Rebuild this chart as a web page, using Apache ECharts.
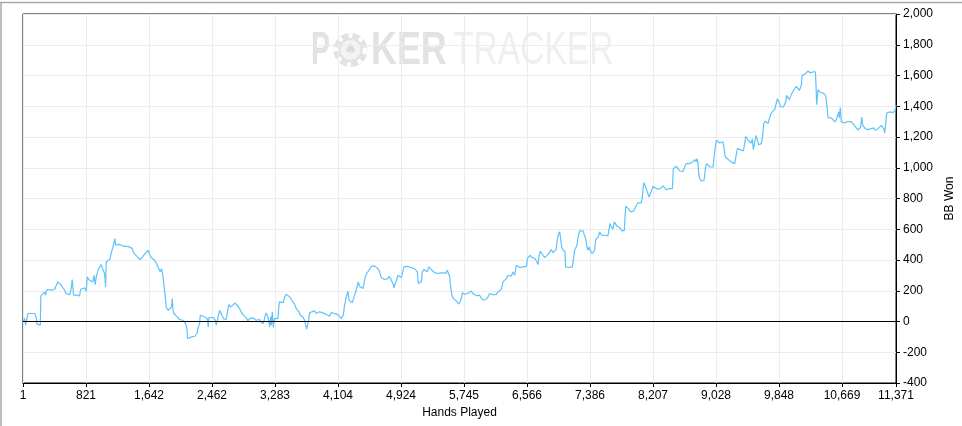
<!DOCTYPE html>
<html>
<head>
<meta charset="utf-8">
<script src="https://cdn.jsdelivr.net/npm/echarts@6/dist/echarts.min.js"></script>
<style>
html,body{margin:0;padding:0;background:#fff;}
#c{width:962px;height:426px;}
</style>
</head>
<body>
<div id="c"></div>
<script>
// Hands played (x) and cumulative BB won (y)
var hands = [1,21,34,51,64,77,107,129,151,173,181,207,225,233,259,281,294,311,337,368,390,411,433,455,476,498,520,542,563,585,607,628,641,659,676,694,715,737,750,772,802,824,837,850,867,889,911,924,941,954,980,997,1019,1041,1063,1076,1084,1106,1128,1149,1162,1180,1197,1206,1223,1249,1280,1310,1345,1367,1388,1410,1423,1440,1466,1484,1510,1527,1545,1562,1588,1614,1631,1649,1670,1692,1714,1736,1749,1766,1788,1805,1822,1840,1853,1866,1892,1918,1935,1944,1953,1966,1996,2018,2040,2061,2083,2105,2118,2135,2144,2170,2196,2213,2239,2265,2278,2300,2309,2330,2352,2378,2400,2413,2422,2452,2482,2504,2517,2539,2561,2578,2591,2613,2630,2647,2669,2682,2700,2717,2734,2760,2786,2812,
2821,2843,2865,2886,2908,2930,2952,2973,2995,3017,3038,3060,3082,3095,3112,3130,3147,3164,3182,3199,3212,3225,3234,3247,3260,3277,3299,3321,3338,3364,3390,3408,3429,3451,3473,3494,3516,3538,3559,3581,3594,3612,3625,3646,3668,3681,3694,3711,3720,3733,3746,3764,3785,3798,3820,3842,3863,3885,3907,3929,3950,3972,3994,4015,4037,4059,4081,4102,4124,4146,4159,4172,4189,4211,4233,4246,4267,4289,4311,4328,4350,4367,4384,4406,4428,4450,4458,4476,4493,4506,4523,4536,4558,4580,4602,4623,4645,4667,4688,4710,4732,4754,4771,4788,4806,4823,4832,4849,4866,4884,4905,4927,4940,4962,4979,5005,5031,5057,5079,5101,5123,5136,5149,5157,5170,5188,5201,5223,5249,5266,5283,5309,5335,5353,5370,5388,5405,5422,5440,5457,5474,5492,5509,5526,5544,5557,5570,5587,5605,5622,
5644,5666,5679,5696,5709,5722,5739,5757,5774,5796,5818,5835,5861,5883,5904,5926,5948,5969,5991,6013,6035,6056,6078,6100,6121,6143,6165,6187,6208,6230,6252,6273,6295,6317,6339,6360,6382,6404,6425,6447,6469,6491,6512,6534,6556,6569,6590,6608,6629,6651,6669,6686,6708,6721,6738,6755,6773,6794,6816,6838,6860,6881,6903,6925,6946,6955,6973,6990,7003,7020,7042,7059,7068,7085,7111,7133,7155,7172,7185,7198,7216,7229,7250,7272,7294,7316,7329,7346,7359,7372,7389,7411,7433,7446,7459,7476,7494,7511,7524,7537,7554,7576,7598,7619,7632,7645,7663,7685,7702,7719,7737,7754,7771,7784,7802,7819,7832,7850,7867,7884,7902,7919,7936,7954,7971,7989,8010,8032,8054,8067,8084,8101,8119,8136,8154,8171,8188,8206,8227,8249,8271,8292,8314,8336,8358,8379,8401,
8423,8445,8458,8471,8488,8510,8532,8553,8575,8597,8619,8636,8653,8671,8697,8714,8731,8749,8766,8779,8792,8801,8814,8836,8857,8870,8879,8892,8909,8927,8944,8966,8988,9001,9018,9031,9053,9074,9096,9118,9140,9148,9166,9183,9205,9226,9248,9270,9292,9305,9322,9344,9365,9383,9400,9413,9430,9452,9470,9487,9500,9513,9530,9548,9565,9582,9600,9617,9635,9648,9669,9687,9704,9717,9734,9756,9773,9791,9813,9826,9843,9856,9869,9886,9904,9921,9934,9947,9965,9982,9999,10012,10030,10051,10073,10095,10112,10130,10138,10147,10164,10182,10203,10225,10238,10255,10268,10286,10303,10321,10329,10338,10355,10377,10399,10420,10442,10455,10473,10486,10507,10529,10551,10572,10594,10607,10625,10633,10646,10659,10681,10703,10724,10746,10768,10790,10811,10833,10855,10876,10898,10911,10924,10937,10955,10972,10989,11007,11028,11050,11067,11085,11102,11120,11137,11159,11180,11198,11211,11224,11237,11250,11267,11289,11311,11332,11350,11358,11371];

var bbWon = [0,19,-24,-17,52,56,52,56,52,26,-17,-28,-24,165,178,193,171,208,197,204,208,208,214,258,247,236,219,204,182,171,175,214,273,171,178,171,175,167,208,221,219,197,290,301,268,268,258,301,240,290,338,349,370,338,312,225,388,398,403,405,468,474,539,496,485,502,496,489,489,485,485,494,474,446,437,424,420,403,416,424,442,437,463,437,416,403,398,381,366,344,323,344,301,214,160,89,73,73,95,149,73,52,37,24,13,15,8,-2,-13,-46,-111,-104,-100,-100,-96,-78,-46,-13,41,34,34,34,19,-35,26,26,26,9,-24,-28,73,84,41,19,9,13,84,110,95,84,106,121,112,91,
91,63,45,34,24,4,19,30,24,15,8,4,13,-2,-9,-13,-24,56,41,8,-35,30,-24,63,-39,19,15,19,128,128,123,160,177,171,160,143,128,112,84,95,63,41,52,30,8,13,-50,-50,8,56,47,63,52,69,52,45,63,67,56,52,45,52,34,58,47,52,56,45,41,19,8,41,106,160,197,138,128,123,160,182,193,258,229,219,214,208,290,312,301,333,344,359,372,362,351,344,323,284,273,273,268,279,294,279,258,240,219,247,268,301,307,286,312,355,366,359,362,351,355,344,338,323,247,240,247,258,323,338,329,323,355,344,329,323,316,323,312,316,316,307,316,323,312,333,333,294,225,171,149,138,
134,128,113,106,149,186,199,177,171,182,186,199,182,175,167,160,171,154,138,149,145,160,182,177,175,186,177,193,204,208,258,269,279,301,290,294,323,301,366,355,351,344,355,351,359,409,416,431,416,420,409,394,370,424,457,453,431,416,424,435,453,468,448,442,468,518,567,583,539,474,463,453,355,349,351,351,355,416,463,474,496,546,589,583,589,578,539,485,463,485,463,442,437,463,533,539,550,583,593,561,572,561,565,557,561,637,615,600,648,654,619,615,611,598,589,583,593,749,756,734,728,713,706,719,713,756,771,767,771,810,903,886,875,838,810,804,853,879,886,864,858,860,864,882,871,858,853,
864,860,864,994,1005,1010,1001,979,973,977,973,1027,1031,1027,1023,1033,1027,1053,1038,1059,1027,962,929,914,908,918,951,1010,1027,1016,1005,999,1005,1070,1135,1179,1168,1161,1161,1168,1157,1070,1081,1055,1048,1038,1031,1027,1031,1124,1131,1118,1131,1109,1157,1205,1196,1174,1168,1161,1189,1118,1124,1211,1211,1150,1140,1157,1211,1287,1304,1309,1287,1313,1341,1363,1369,1378,1384,1449,1439,1417,1395,1406,1395,1391,1428,1471,1465,1443,1449,1482,1493,1514,1529,1529,1503,1493,1536,1601,1605,1607,1616,1629,1638,1616,1607,1623,1629,1623,1536,1410,1508,1493,1488,1486,1482,1471,1395,1326,1319,1324,1319,1298,1313,1326,1363,1326,1391,1298,1287,1291,1298,1302,1304,1298,1293,1272,1259,1244,1244,1265,1330,1276,1270,1254,1244,1248,1244,1254,1248,1259,1244,1248,1254,1265,1276,1272,1254,1226,1287,1356,1363,1363,1367,1358,1356,1373,1406];

var xTickLabels = ['1','821','1,642','2,462','3,283','4,104','4,924','5,745','6,566','7,386','8,207','9,028','9,848','10,669','11,371'];
var xMax = 11371;
var xInterval = 820.6;
var yMin = -400, yMax = 2000, yInterval = 200;

var chart = echarts.init(document.getElementById('c'), null, {renderer: 'canvas'});
var FONT = 'Liberation Sans, Arial, sans-serif';
var seriesData = hands.map(function (h, i) { return [h, bbWon[i]]; });

var option = {
  animation: false,
  backgroundColor: '#ffffff',
  textStyle: {fontFamily: FONT},
  graphic: [
    {type: 'line', silent: true, shape: {x1: 0, y1: 2.5, x2: 962, y2: 2.5}, style: {stroke: '#a8a8a8', lineWidth: 1.5}},
    {type: 'line', silent: true, shape: {x1: 1, y1: 2, x2: 1, y2: 426}, style: {stroke: '#a8a8a8', lineWidth: 1.5}},
    {type: 'group', silent: true, z: -1, children: [
      {type: 'text', x: 311, y: 51, scaleX: 0.62, style: {text: 'P', font: 'bold 46px Liberation Sans', fill: '#e2e2e2', textVerticalAlign: 'middle', textAlign: 'left'}},
      {type: 'circle', shape: {cx: 350.5, cy: 50, r: 17}, style: {fill: '#e2e2e2'}},
      {type: 'circle', shape: {cx: 350.5, cy: 50, r: 14.5}, style: {fill: 'none', stroke: '#ffffff', lineWidth: 4.5, lineDash: [4, 7]}},
      {type: 'circle', shape: {cx: 350.5, cy: 50, r: 10}, style: {fill: '#f3f3f3'}},
      {type: 'text', x: 350.5, y: 50, style: {text: '\u2660', font: '15px DejaVu Sans', fill: '#dcdcdc', textAlign: 'center', textVerticalAlign: 'middle'}},
      {type: 'text', x: 371, y: 51, scaleX: 0.78, style: {text: 'KER', font: 'bold 46px Liberation Sans', fill: '#e2e2e2', textVerticalAlign: 'middle', textAlign: 'left'}},
      {type: 'text', x: 453, y: 51, scaleX: 0.73, style: {text: 'TRACKER', font: '46px Liberation Sans', fill: '#efefef', textVerticalAlign: 'middle', textAlign: 'left'}}
    ]}
  ],
  grid: {
    left: 23, right: 66, top: 14, bottom: 43,
    outerBoundsMode: 'none', containLabel: false,
    show: true, borderColor: '#000000', borderWidth: 1, backgroundColor: 'transparent'
  },
  xAxis: {
    type: 'value',
    min: 0, max: xMax, interval: xInterval,
    name: 'Hands Played', nameLocation: 'middle', nameGap: 23,
    nameTextStyle: {color: '#000', fontSize: 12, fontFamily: FONT},
    axisLine: {show: true, onZero: false, lineStyle: {color: '#000', width: 1}},
    axisTick: {show: true, length: 4, lineStyle: {color: '#000'}},
    axisLabel: {
      color: '#000', fontSize: 12, fontFamily: FONT, margin: 7,
      showMinLabel: true, showMaxLabel: true,
      formatter: function (v) {
        if (v >= xMax - 1) return xTickLabels[xTickLabels.length - 1];
        return xTickLabels[Math.round(v / xInterval)] || '';
      }
    },
    splitLine: {show: true, lineStyle: {color: '#ececec', width: 1}}
  },
  yAxis: {
    type: 'value', position: 'right',
    min: yMin, max: yMax, interval: yInterval,
    name: 'BB Won', nameLocation: 'middle', nameGap: 46, nameRotate: 90,
    nameTextStyle: {color: '#000', fontSize: 12, fontFamily: FONT},
    axisLine: {show: true, onZero: false, lineStyle: {color: '#000', width: 1}},
    axisTick: {show: true, length: 4, lineStyle: {color: '#000'}},
    axisLabel: {color: '#000', fontSize: 12, fontFamily: FONT, margin: 7},
    splitLine: {show: true, lineStyle: {color: '#ececec', width: 1}}
  },
  series: [{
    type: 'line',
    data: seriesData,
    showSymbol: false,
    symbol: 'none',
    lineStyle: {color: '#5ec2fb', width: 1.2},
    itemStyle: {color: '#5ec2fb'},
    z: 3,
    markLine: {
      silent: true, symbol: ['none', 'none'],
      label: {show: false},
      lineStyle: {color: '#000', width: 1, type: 'solid'},
      data: [{yAxis: 0}]
    }
  }]
};
chart.setOption(option);
</script>
</body>
</html>
